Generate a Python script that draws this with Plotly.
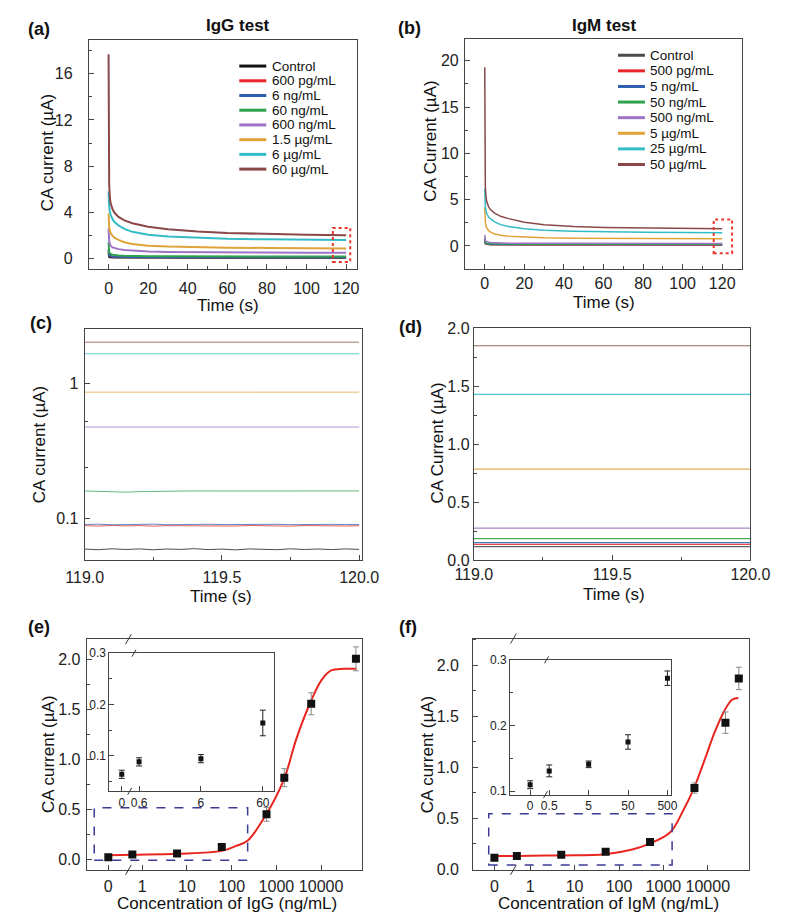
import plotly.graph_objects as go
import numpy as np

W, H = 790, 915
def px(x):
    return x / W
def py(y):
    return 1 - y / H

# ---------------- data ----------------
colors_a = ["#111111", "#e8262a", "#2d5fae", "#2ea24c", "#9d73c6", "#e0a33a", "#33bcc6", "#8a4848"]
colors_b = ["#4a4a4a", "#e8262a", "#2d5fae", "#2ea24c", "#9d73c6", "#e0a33a", "#33bcc6", "#8a4848"]
labels_a = ["Control", "600 pg/mL", "6 ng/mL", "60 ng/mL", "600 ng/mL", "1.5 µg/mL", "6 µg/mL", "60 µg/mL"]
labels_b = ["Control", "500 pg/mL", "5 ng/mL", "50 ng/mL", "500 ng/mL", "5 µg/mL", "25 µg/mL", "50 µg/mL"]

t_ab = [0, 0.1, 0.3, 0.6, 1, 2, 3, 5, 8, 12, 20, 30, 45, 60, 80, 100, 120]

ca_a = [
    [0.45, 0.2, 0.13, 0.1, 0.09, 0.08, 0.075, 0.07, 0.067, 0.065, 0.063, 0.062, 0.061, 0.06, 0.06, 0.06, 0.06],
    [0.7, 0.38, 0.26, 0.2, 0.17, 0.14, 0.125, 0.115, 0.105, 0.1, 0.096, 0.094, 0.092, 0.091, 0.09, 0.089, 0.089],
    [0.75, 0.4, 0.28, 0.22, 0.18, 0.15, 0.13, 0.12, 0.11, 0.105, 0.1, 0.097, 0.095, 0.093, 0.092, 0.091, 0.09],
    [1.4, 0.8, 0.55, 0.45, 0.38, 0.31, 0.28, 0.25, 0.22, 0.2, 0.19, 0.18, 0.17, 0.165, 0.162, 0.16, 0.16],
    [2.6, 1.9, 1.5, 1.25, 1.1, 0.95, 0.88, 0.8, 0.72, 0.66, 0.6, 0.56, 0.53, 0.51, 0.5, 0.49, 0.48],
    [3.9, 3.1, 2.7, 2.4, 2.2, 1.95, 1.8, 1.6, 1.4, 1.25, 1.1, 1.02, 0.96, 0.93, 0.9, 0.87, 0.85],
    [5.8, 5.0, 4.5, 4.1, 3.8, 3.4, 3.15, 2.85, 2.55, 2.3, 2.05, 1.9, 1.78, 1.7, 1.65, 1.62, 1.6],
    [17.7, 8.5, 6.4, 5.4, 4.8, 4.25, 3.95, 3.6, 3.3, 3.05, 2.75, 2.52, 2.32, 2.2, 2.1, 2.05, 2.0],
]
ca_b = [
    [0.6, 0.35, 0.25, 0.2, 0.17, 0.15, 0.14, 0.13, 0.125, 0.122, 0.12, 0.118, 0.117, 0.116, 0.115, 0.115, 0.115],
    [0.7, 0.4, 0.3, 0.24, 0.2, 0.17, 0.16, 0.15, 0.145, 0.142, 0.14, 0.138, 0.137, 0.136, 0.135, 0.135, 0.135],
    [0.8, 0.45, 0.33, 0.27, 0.23, 0.2, 0.185, 0.172, 0.163, 0.158, 0.153, 0.152, 0.151, 0.15, 0.15, 0.15, 0.15],
    [0.9, 0.5, 0.4, 0.32, 0.28, 0.25, 0.23, 0.215, 0.205, 0.198, 0.192, 0.19, 0.188, 0.187, 0.186, 0.185, 0.185],
    [1.2, 0.8, 0.6, 0.5, 0.45, 0.4, 0.37, 0.34, 0.32, 0.3, 0.29, 0.285, 0.28, 0.278, 0.276, 0.275, 0.275],
    [4.2, 3.2, 2.6, 2.2, 1.95, 1.65, 1.5, 1.3, 1.15, 1.05, 0.95, 0.88, 0.84, 0.82, 0.8, 0.79, 0.78],
    [6.2, 5.0, 4.3, 3.8, 3.5, 3.1, 2.9, 2.6, 2.3, 2.1, 1.85, 1.7, 1.6, 1.53, 1.48, 1.45, 1.43],
    [19.3, 9.0, 6.5, 5.4, 4.8, 4.2, 3.9, 3.55, 3.2, 2.95, 2.55, 2.3, 2.1, 2.0, 1.93, 1.88, 1.85],
]

t_c = [119.00, 119.05, 119.10, 119.15, 119.20, 119.25, 119.30, 119.35, 119.40, 119.45, 119.50,
       119.55, 119.60, 119.65, 119.70, 119.75, 119.80, 119.85, 119.90, 119.95, 120.00]
ca_c = [
    [0.0598, 0.0592, 0.0601, 0.0594, 0.0600, 0.0591, 0.0599, 0.0595, 0.0602, 0.0593, 0.0598,
     0.0590, 0.0600, 0.0596, 0.0592, 0.0601, 0.0594, 0.0599, 0.0593, 0.0600, 0.0595],
    [0.0890, 0.0884, 0.0893, 0.0886, 0.0891, 0.0883, 0.0890, 0.0887, 0.0894, 0.0885, 0.0889,
     0.0884, 0.0892, 0.0886, 0.0890, 0.0883, 0.0891, 0.0887, 0.0889, 0.0885, 0.0888],
    [0.0908, 0.0912, 0.0903, 0.0910, 0.0906, 0.0913, 0.0904, 0.0909, 0.0905, 0.0911, 0.0906,
     0.0910, 0.0903, 0.0908, 0.0911, 0.0905, 0.0909, 0.0904, 0.0910, 0.0906, 0.0908],
    [0.1605, 0.1590, 0.1565, 0.1570, 0.1585, 0.1595, 0.1598, 0.1600, 0.1603, 0.1600, 0.1602,
     0.1604, 0.1601, 0.1603, 0.1605, 0.1602, 0.1604, 0.1603, 0.1605, 0.1603, 0.1604],
    [0.474] * 21,
    [0.857] * 21,
    [1.645] * 21,
    [2.0] * 21,
]

t_d = [119.0, 120.0]
ca_d = [0.115, 0.135, 0.15, 0.185, 0.275, 0.785, 1.43, 1.85]

# (e) IgG calibration, concentrations in ng/mL (control drawn at the "0" break position)
ctrl_e = 0.174
conc_e = [ctrl_e, 0.6, 6, 60, 600, 1500, 6000, 60000]
cur_e = [0.020, 0.049, 0.059, 0.124, 0.452, 0.819, 1.56, 2.01]
err_e = [0.02, 0.02, 0.02, 0.03, 0.07, 0.09, 0.11, 0.12]
fit_conc_e = [0.174, 0.6, 5.9, 60, 125, 229, 590, 1496, 2780, 6095, 10280, 16790, 32210, 62090]
fit_cur_e = [0.04, 0.046, 0.056, 0.085, 0.135, 0.19, 0.45, 0.81, 1.206, 1.6, 1.80, 1.894, 1.91, 1.91]
ticks_e = [ctrl_e, 1, 10, 100, 1000, 10000]
ticktext_e = ["0", "1", "10", "100", "1000", "10000"]

ctrl_ei = 0.315
conc_ei = [ctrl_ei, 0.6, 6, 60]
cur_ei = [0.0637, 0.088, 0.0943, 0.1639]
err_ei = [0.008, 0.008, 0.008, 0.025]
ticktext_ei = ["0", "0.6", "6", "60"]

# (f) IgM calibration
ctrl_f = 0.156
conc_f = [ctrl_f, 0.5, 5, 50, 500, 5000, 25000, 50000]
cur_f = [0.112, 0.128, 0.141, 0.170, 0.266, 0.796, 1.438, 1.872]
err_f = [0.015, 0.02, 0.02, 0.025, 0.03, 0.05, 0.105, 0.11]
fit_conc_f = [0.156, 0.5, 5, 49, 199, 490, 1426, 2754, 4887, 8690, 14220, 23330, 35160, 48870]
fit_cur_f = [0.128, 0.13, 0.135, 0.147, 0.193, 0.25, 0.362, 0.571, 0.796, 1.085, 1.342, 1.551, 1.663, 1.679]
ticks_f = [ctrl_f, 1, 10, 100, 1000, 10000]
ticktext_f = ["0", "1", "10", "100", "1000", "10000"]

ctrl_fi = 0.164
conc_fi = [ctrl_fi, 0.5, 5, 50, 500]
cur_fi = [0.110, 0.131, 0.141, 0.175, 0.272]
err_fi = [0.006, 0.009, 0.005, 0.011, 0.011]
ticktext_fi = ["0", "0.5", "5", "50", "500"]

# ---------------- figure ----------------
fig = go.Figure()

for i in range(8):
    fig.add_trace(go.Scatter(x=t_ab, y=ca_a[i], mode="lines", line=dict(color=colors_a[i], width=2),
                             xaxis="x", yaxis="y", showlegend=False))
for i in range(8):
    fig.add_trace(go.Scatter(x=t_ab, y=ca_b[i], mode="lines", line=dict(color=colors_b[i], width=1.5),
                             xaxis="x2", yaxis="y2", showlegend=False))
for i in range(8):
    fig.add_trace(go.Scatter(x=t_c, y=ca_c[i], mode="lines", line=dict(color=colors_a[i], width=1),
                             opacity=0.75, xaxis="x3", yaxis="y3", showlegend=False))
for i in range(8):
    fig.add_trace(go.Scatter(x=t_d, y=[ca_d[i], ca_d[i]], mode="lines", line=dict(color=colors_b[i], width=1.2),
                             opacity=0.85, xaxis="x4", yaxis="y4", showlegend=False))

# (e)
fig.add_trace(go.Scatter(x=fit_conc_e, y=fit_cur_e, mode="lines", line=dict(color="#e8261f", width=2, shape="spline"),
                         xaxis="x5", yaxis="y5", showlegend=False))
fig.add_trace(go.Scatter(x=conc_e, y=cur_e, mode="markers", marker=dict(symbol="square", size=8, color="#111"),
                         error_y=dict(type="data", array=err_e, color="#8a8a8a", thickness=1, width=3),
                         xaxis="x5", yaxis="y5", showlegend=False))
fig.add_trace(go.Scatter(x=conc_ei, y=cur_ei, mode="markers", marker=dict(symbol="square", size=5, color="#111"),
                         error_y=dict(type="data", array=err_ei, color="#222", thickness=1, width=3),
                         xaxis="x7", yaxis="y7", showlegend=False))
# (f)
fig.add_trace(go.Scatter(x=fit_conc_f, y=fit_cur_f, mode="lines", line=dict(color="#e8261f", width=2, shape="spline"),
                         xaxis="x6", yaxis="y6", showlegend=False))
fig.add_trace(go.Scatter(x=conc_f, y=cur_f, mode="markers", marker=dict(symbol="square", size=8, color="#111"),
                         error_y=dict(type="data", array=err_f, color="#8a8a8a", thickness=1, width=3),
                         xaxis="x6", yaxis="y6", showlegend=False))
fig.add_trace(go.Scatter(x=conc_fi, y=cur_fi, mode="markers", marker=dict(symbol="square", size=5, color="#111"),
                         error_y=dict(type="data", array=err_fi, color="#222", thickness=1, width=3),
                         xaxis="x8", yaxis="y8", showlegend=False))

FONT = "Liberation Sans, Arial, sans-serif"
AX = dict(showline=True, linecolor="#444", linewidth=1, mirror=True, ticks="inside", ticklen=5,
          tickcolor="#444", showgrid=False, zeroline=False, tickfont=dict(size=16, color="#222", family=FONT))

def ax(**kw):
    d = dict(AX)
    d.update(kw)
    return d

MIN = dict(ticks="inside", ticklen=3, tickcolor="#444")
SMALL = dict(size=12, color="#222", family=FONT)

layout = dict(
    width=W, height=H, margin=dict(l=0, r=0, t=0, b=0),
    paper_bgcolor="white", plot_bgcolor="rgba(0,0,0,0)",
    font=dict(family=FONT, color="#222"),
    # (a)
    xaxis=ax(domain=[px(65), px(346.7)], range=[-10, 125.3], dtick=20, tick0=0, anchor="y",
             minor=dict(dtick=10, **MIN), ticklabelstandoff=5),
    yaxis=ax(domain=[py(258), py(24.3)], range=[-0.94, 18.95], dtick=4, tick0=0, anchor="x",
             minor=dict(dtick=2, **MIN), ticklabelstandoff=12),
    # (b)
    xaxis2=ax(domain=[px(460.7), px(751.7)], range=[-10, 129.8], dtick=20, tick0=0, anchor="y2",
              minor=dict(dtick=10, **MIN), ticklabelstandoff=0),
    yaxis2=ax(domain=[py(257.7), py(23.3)], range=[-2.48, 22.37], dtick=5, tick0=0, anchor="x2",
              minor=dict(dtick=2.5, **MIN), ticklabelstandoff=2),
    # (c)
    xaxis3=ax(domain=[px(60.7), px(352.3)], range=[119, 120.01], tickvals=[119, 119.5, 120],
              ticktext=["119.0", "119.5", "120.0"], anchor="y3",
              minor=dict(tickvals=[119.25, 119.75], **MIN), ticklabelstandoff=3),
    yaxis3=ax(domain=[py(554), py(319.3)], type="log", range=[-1.3015, 0.3955], tickvals=[0.1, 1],
              ticktext=["0.1", "1"], anchor="x3", minor=dict(tickvals=[0.24, 0.52], **MIN), ticklabelstandoff=2),
    # (d)
    xaxis4=ax(domain=[px(470), px(761)], range=[119, 120], tickvals=[119, 119.5, 120],
              ticktext=["119.0", "119.5", "120.0"], anchor="y4",
              minor=dict(tickvals=[119.25, 119.75], **MIN), ticklabelstandoff=0),
    yaxis4=ax(domain=[py(554.3), py(318.3)], range=[0, 2.0], dtick=0.5, tickformat=".1f", anchor="x4",
              minor=dict(dtick=0.25, **MIN), ticklabelstandoff=0),
    # (e)
    xaxis5=ax(domain=[px(62.7), px(352.3)], type="log", range=[-1.245, 4.912], tickvals=ticks_e,
              ticktext=ticktext_e, anchor="y5", ticklabelstandoff=2),
    yaxis5=ax(domain=[py(870), py(635)], range=[-0.105, 2.207], dtick=0.5, tickformat=".1f", anchor="x5",
              minor=dict(dtick=0.25, **MIN), ticklabelstandoff=2),
    xaxis7=ax(domain=[px(86.7), px(259.7)], type="log", range=[-0.701, 1.957], tickvals=conc_ei,
              ticktext=ticktext_ei, anchor="y7", tickfont=SMALL, ticklabelstandoff=0),
    yaxis7=ax(domain=[py(790), py(649.3)], range=[0.0305, 0.3], tickvals=[0.1, 0.2, 0.3], anchor="x7",
              tickfont=SMALL, minor=dict(dtick=0.05, **MIN), ticklabelstandoff=0),
    # (f)
    xaxis6=ax(domain=[px(469.3), px(760)], type="log", range=[-1.286, 4.939], tickvals=ticks_f,
              ticktext=ticktext_f, anchor="y6", ticklabelstandoff=2),
    yaxis6=ax(domain=[py(870), py(634.3)], range=[-0.007, 2.264], dtick=0.5, tickformat=".1f", anchor="x6",
              minor=dict(dtick=0.25, **MIN), ticklabelstandoff=10),
    xaxis8=ax(domain=[px(508.3), px(677.3)], type="log", range=[-1.291, 2.786], tickvals=conc_fi,
              ticktext=ticktext_fi, anchor="y8", tickfont=SMALL, ticklabelstandoff=0),
    yaxis8=ax(domain=[py(793.3), py(656)], range=[0.095, 0.3], tickvals=[0.1, 0.2, 0.3], anchor="x8",
              tickfont=SMALL, minor=dict(dtick=0.05, **MIN), ticklabelstandoff=0),
)
fig.update_layout(**layout)

ann = []
shapes = []

def text(x, y, s, size=17, bold=False, angle=0, xanchor="center"):
    ann.append(dict(x=px(x), y=py(y), xref="paper", yref="paper", text=("<b>%s</b>" % s) if bold else s,
                    showarrow=False, textangle=angle, xanchor=xanchor, yanchor="middle",
                    font=dict(size=size, family=FONT, color="#111")))

# panel labels & titles
text(13, 13, "(a)", 18, True)
text(402, 12, "(b)", 18, True)
text(15, 313, "(c)", 18, True)
text(403, 317, "(d)", 18, True)
text(13, 623, "(e)", 18, True)
text(401, 623, "(f)", 18, True)
text(222, 10, "IgG test", 17, True)
text(607, 10, "IgM test", 17, True)

# axis titles
text(211, 295, "Time (s)")
text(607, 292, "Time (s)")
text(204, 591, "Time (s)")
text(617, 589, "Time (s)")
text(210, 904, "Concentration of IgG (ng/mL)")
text(612, 904, "Concentration of IgM (ng/mL)")
text(22, 139, "CA current (µA)", angle=-90)
text(425, 128, "CA Current (µA)", angle=-90)
text(14, 436, "CA current (µA)", angle=-90)
text(432, 435, "CA Current (µA)", angle=-90)
text(22, 752, "CA current (µA)", angle=-90)
text(421, 752, "CA current (µA)", angle=-90)

# manual legends
def legend(labels, cols, x0, x1, xt, y0, dy):
    for i, (lab, c) in enumerate(zip(labels, cols)):
        y = y0 + i * dy
        shapes.append(dict(type="line", xref="paper", yref="paper", x0=px(x0), x1=px(x1), y0=py(y), y1=py(y),
                           line=dict(color=c, width=3)))
        ann.append(dict(x=px(xt), y=py(y), xref="paper", yref="paper", text=lab, showarrow=False,
                        xanchor="left", yanchor="middle", font=dict(size=13.5, family=FONT, color="#111")))

legend(labels_a, colors_a, 223.3, 251.7, 255.5, 51, 15)
legend(labels_b, colors_b, 621.7, 650, 653, 40, 15.9)

# red dotted zoom boxes
shapes.append(dict(type="rect", xref="x", yref="y", x0=113.3, x1=122.1, y0=-0.31, y1=2.64,
                   line=dict(color="#e8372c", width=2, dash="dot")))
shapes.append(dict(type="rect", xref="x2", yref="y2", x0=115.7, x1=125, y0=-0.78, y1=2.86,
                   line=dict(color="#e8372c", width=2, dash="dot")))
# blue dashed boxes in (e), (f)
shapes.append(dict(type="rect", xref="x5 domain", yref="y5 domain", x0=0.0277, x1=0.585, y0=0.042, y1=0.269,
                   line=dict(color="#3b3b95", width=1.5, dash="dash")))
shapes.append(dict(type="rect", xref="x6 domain", yref="y6 domain", x0=0.0564, x1=0.720, y0=0.021, y1=0.243,
                   line=dict(color="#3b3b95", width=1.5, dash="dash")))

# axis-break marks
def brk(x, y, s=4):
    shapes.append(dict(type="line", xref="paper", yref="paper", x0=px(x - s * 0.6), y0=py(y + s),
                       x1=px(x + s * 0.6), y1=py(y - s), line=dict(color="#333", width=1)))

brk(106.7, 635, 5)
brk(106.7, 870, 5)
brk(112.5, 649.3, 3.5)
brk(108.0, 790, 3.5)
brk(511.7, 634.3, 5)
brk(511.7, 870, 5)
brk(546.5, 656, 3.5)
brk(545.5, 793.3, 3.5)

fig.update_layout(annotations=ann, shapes=shapes)
fig.write_html("out.html")
